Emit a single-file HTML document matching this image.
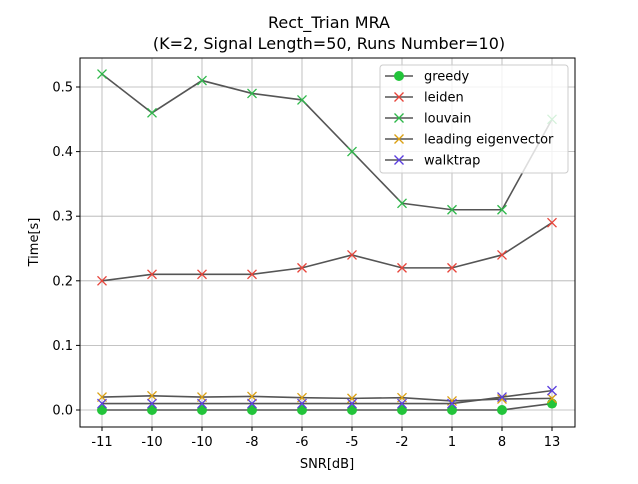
<!DOCTYPE html>
<html><head><meta charset="utf-8"><style>
body{margin:0;background:#fff;}
svg{font-family:"DejaVu Sans","Liberation Sans",sans-serif;}
</style></head><body>
<svg id="c" width="638" height="479" xmlns="http://www.w3.org/2000/svg">
<text x="329" y="28" text-anchor="middle" font-size="16">Rect_Trian MRA</text>
<text x="329" y="49" text-anchor="middle" font-size="16">(K=2, Signal Length=50, Runs Number=10)</text>
<g id="grid"></g>
<g id="series"></g>
<rect x="80" y="58" width="495" height="369" fill="none" stroke="#000" stroke-width="1"/>
<g id="ticks"></g>
<text x="327" y="468" text-anchor="middle" font-size="13">SNR[dB]</text>
<text transform="translate(38,242) rotate(-90)" text-anchor="middle" font-size="13">Time[s]</text>
<g id="legend"></g>
</svg>
<script>
const categories=["-11","-10","-10","-8","-6","-5","-2","1","8","13"];
const greedy=[0,0,0,0,0,0,0,0,0,0.01];
const leiden=[0.20,0.21,0.21,0.21,0.22,0.24,0.22,0.22,0.24,0.29];
const louvain=[0.52,0.46,0.51,0.49,0.48,0.40,0.32,0.31,0.31,0.45];
const leadingEig=[0.020,0.022,0.020,0.021,0.019,0.018,0.019,0.014,0.017,0.018];
const walktrap=[0.01,0.01,0.01,0.01,0.01,0.01,0.01,0.01,0.02,0.03];
const yTicks=[0,0.1,0.2,0.3,0.4,0.5];
const yTickLabels=["0.0","0.1","0.2","0.3","0.4","0.5"];
const NS="http://www.w3.org/2000/svg";
function xs(i){return 102+i*50;}
function ys(v){return 410-v*646;}
function mk(tag,attrs,parent){const e=document.createElementNS(NS,tag);for(const k in attrs)e.setAttribute(k,attrs[k]);parent.appendChild(e);return e;}
const grid=document.getElementById('grid'),ticks=document.getElementById('ticks'),series=document.getElementById('series'),legend=document.getElementById('legend');
categories.forEach((c,i)=>{
  const g=mk('line',{x1:xs(i),x2:xs(i),y1:58,y2:427,stroke:'#b0b0b0','stroke-width':0.8},grid);
  
  
  mk('line',{x1:xs(i),x2:xs(i),y1:427,y2:431,stroke:'#000'},ticks);
  const t=mk('text',{x:xs(i),y:446,'text-anchor':'middle','font-size':13},ticks);t.textContent=c;
  
  
});
yTicks.forEach((v,i)=>{
  const g=mk('line',{x1:80,x2:575,y1:ys(v),y2:ys(v),stroke:'#b0b0b0','stroke-width':0.8},grid);
  
  
  mk('line',{x1:76,x2:80,y1:ys(v),y2:ys(v),stroke:'#000'},ticks);
  const t=mk('text',{x:73,y:ys(v)+4.5,'text-anchor':'end','font-size':13},ticks);t.textContent=yTickLabels[i];
  
  
});
function marker(x,y,type,color,parent){
  if(type==='o'){return mk('circle',{cx:x,cy:y,r:5,fill:color},parent);}
  const g=mk('g',{},parent);
  mk('line',{x1:x-4.5,y1:y-4.5,x2:x+4.5,y2:y+4.5,stroke:color,'stroke-width':1.3},g);
  mk('line',{x1:x-4.5,y1:y+4.5,x2:x+4.5,y2:y-4.5,stroke:color,'stroke-width':1.3},g);
  return g;
}
const defs=[["greedy",greedy,'o','#22c43a'],["leiden",leiden,'x','#e8443a'],["louvain",louvain,'x','#2eb84a'],["leading eigenvector",leadingEig,'x','#dba012'],["walktrap",walktrap,'x','#5b3ee0']];
defs.forEach(([name,data,m,col])=>{
  const g=mk('g',{},series);
  
  
  mk('polyline',{points:data.map((v,i)=>xs(i)+','+ys(v)).join(' '),fill:'none',stroke:'#555','stroke-width':1.6},g);
  data.forEach((v,i)=>{const p=marker(xs(i),ys(v),m,col,g);
    
    });
});
const box=mk('rect',{x:380,y:65,width:188,height:108,rx:3,fill:'#fff','fill-opacity':0.8,stroke:'#ccc'},legend);


defs.forEach(([name,data,m,col],k)=>{
  const y=76+k*21;
  const g=mk('g',{},legend);
  
  
  mk('line',{x1:385,x2:413,y1:y,y2:y,stroke:'#555','stroke-width':1.6},g);
  marker(399,y,m,col,g);
  const t=mk('text',{x:424,y:y+4.5,'font-size':13},g);t.textContent=name;
});
</script>
</body></html>
